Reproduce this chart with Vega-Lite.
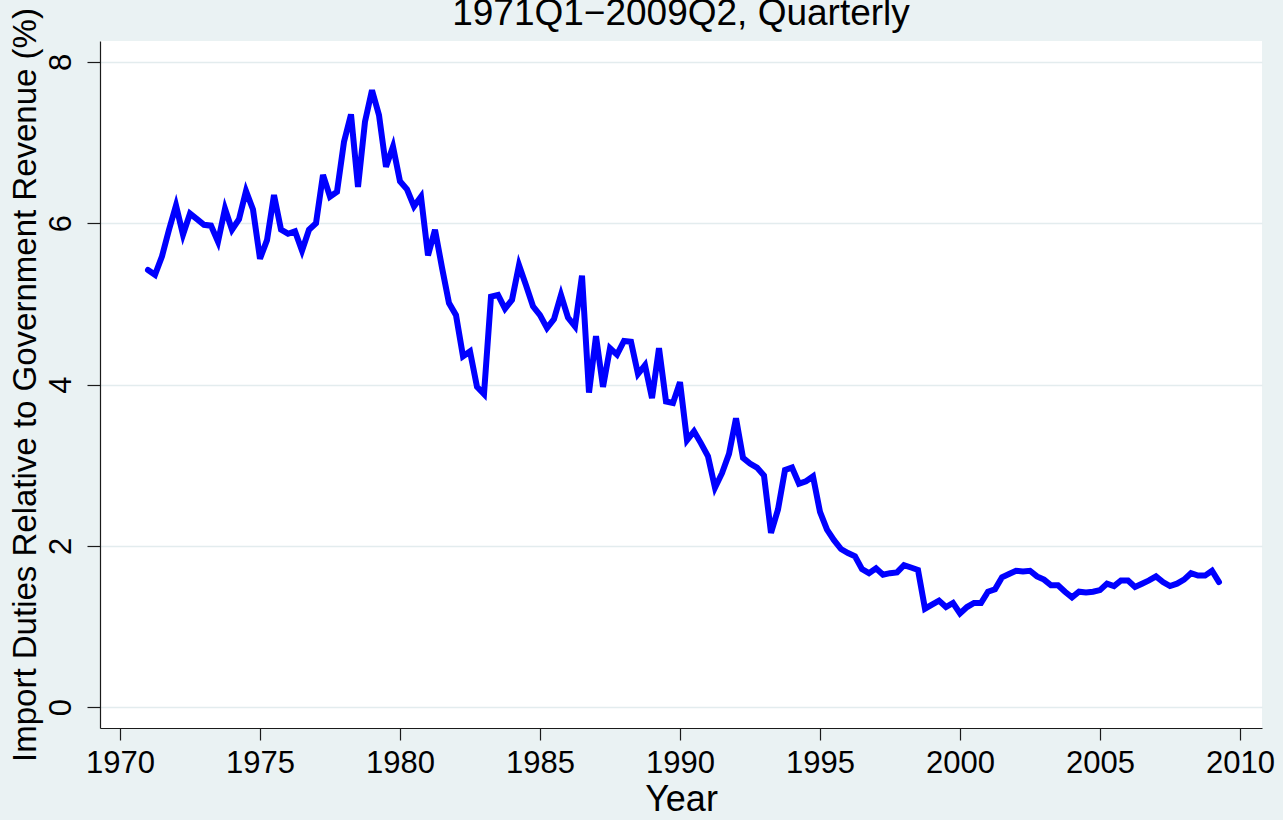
{
  "$schema": "https://vega.github.io/schema/vega-lite/v6.json",
  "autosize": {"type": "none"},
  "width": 1162,
  "height": 687,
  "padding": {"left": 100, "top": 41, "right": 21, "bottom": 92},
  "background": "#EAF2F3",
  "title": {
    "text": "1971Q1−2009Q2, Quarterly",
    "font": "Liberation Sans",
    "fontSize": 37,
    "fontWeight": "normal",
    "color": "#000000",
    "anchor": "middle",
    "frame": "group",
    "baseline": "alphabetic",
    "offset": 0,
    "dy": 54
  },
  "config": {
    "view": {"stroke": null, "fill": "#FFFFFF"},
    "font": "Liberation Sans"
  },
  "data": {
    "values": [
      {"t": 1971.00, "v": 5.42}, {"t": 1971.25, "v": 5.36}, {"t": 1971.50, "v": 5.59}, {"t": 1971.75, "v": 5.92},
      {"t": 1972.00, "v": 6.22}, {"t": 1972.25, "v": 5.86}, {"t": 1972.50, "v": 6.12}, {"t": 1972.75, "v": 6.05},
      {"t": 1973.00, "v": 5.98}, {"t": 1973.25, "v": 5.97}, {"t": 1973.50, "v": 5.77}, {"t": 1973.75, "v": 6.18},
      {"t": 1974.00, "v": 5.92}, {"t": 1974.25, "v": 6.05}, {"t": 1974.50, "v": 6.40}, {"t": 1974.75, "v": 6.17},
      {"t": 1975.00, "v": 5.56}, {"t": 1975.25, "v": 5.79}, {"t": 1975.50, "v": 6.35}, {"t": 1975.75, "v": 5.92},
      {"t": 1976.00, "v": 5.87}, {"t": 1976.25, "v": 5.90}, {"t": 1976.50, "v": 5.66}, {"t": 1976.75, "v": 5.92},
      {"t": 1977.00, "v": 6.00}, {"t": 1977.25, "v": 6.60}, {"t": 1977.50, "v": 6.33}, {"t": 1977.75, "v": 6.39},
      {"t": 1978.00, "v": 7.01}, {"t": 1978.25, "v": 7.35}, {"t": 1978.50, "v": 6.45}, {"t": 1978.75, "v": 7.26},
      {"t": 1979.00, "v": 7.65}, {"t": 1979.25, "v": 7.34}, {"t": 1979.50, "v": 6.70}, {"t": 1979.75, "v": 6.95},
      {"t": 1980.00, "v": 6.52}, {"t": 1980.25, "v": 6.42}, {"t": 1980.50, "v": 6.21}, {"t": 1980.75, "v": 6.33},
      {"t": 1981.00, "v": 5.60}, {"t": 1981.25, "v": 5.92}, {"t": 1981.50, "v": 5.45}, {"t": 1981.75, "v": 5.01},
      {"t": 1982.00, "v": 4.86}, {"t": 1982.25, "v": 4.35}, {"t": 1982.50, "v": 4.41}, {"t": 1982.75, "v": 3.97},
      {"t": 1983.00, "v": 3.88}, {"t": 1983.25, "v": 5.09}, {"t": 1983.50, "v": 5.11}, {"t": 1983.75, "v": 4.94},
      {"t": 1984.00, "v": 5.05}, {"t": 1984.25, "v": 5.48}, {"t": 1984.50, "v": 5.23}, {"t": 1984.75, "v": 4.97},
      {"t": 1985.00, "v": 4.86}, {"t": 1985.25, "v": 4.70}, {"t": 1985.50, "v": 4.81}, {"t": 1985.75, "v": 5.11},
      {"t": 1986.00, "v": 4.83}, {"t": 1986.25, "v": 4.72}, {"t": 1986.50, "v": 5.35}, {"t": 1986.75, "v": 3.90},
      {"t": 1987.00, "v": 4.60}, {"t": 1987.25, "v": 3.97}, {"t": 1987.50, "v": 4.45}, {"t": 1987.75, "v": 4.37},
      {"t": 1988.00, "v": 4.54}, {"t": 1988.25, "v": 4.53}, {"t": 1988.50, "v": 4.13}, {"t": 1988.75, "v": 4.24},
      {"t": 1989.00, "v": 3.83}, {"t": 1989.25, "v": 4.45}, {"t": 1989.50, "v": 3.79}, {"t": 1989.75, "v": 3.77},
      {"t": 1990.00, "v": 4.03}, {"t": 1990.25, "v": 3.31}, {"t": 1990.50, "v": 3.42}, {"t": 1990.75, "v": 3.27},
      {"t": 1991.00, "v": 3.11}, {"t": 1991.25, "v": 2.72}, {"t": 1991.50, "v": 2.90}, {"t": 1991.75, "v": 3.14},
      {"t": 1992.00, "v": 3.58}, {"t": 1992.25, "v": 3.09}, {"t": 1992.50, "v": 3.02}, {"t": 1992.75, "v": 2.97},
      {"t": 1993.00, "v": 2.87}, {"t": 1993.25, "v": 2.16}, {"t": 1993.50, "v": 2.45}, {"t": 1993.75, "v": 2.94},
      {"t": 1994.00, "v": 2.97}, {"t": 1994.25, "v": 2.77}, {"t": 1994.50, "v": 2.80}, {"t": 1994.75, "v": 2.86},
      {"t": 1995.00, "v": 2.42}, {"t": 1995.25, "v": 2.20}, {"t": 1995.50, "v": 2.07}, {"t": 1995.75, "v": 1.96},
      {"t": 1996.00, "v": 1.91}, {"t": 1996.25, "v": 1.87}, {"t": 1996.50, "v": 1.71}, {"t": 1996.75, "v": 1.66},
      {"t": 1997.00, "v": 1.72}, {"t": 1997.25, "v": 1.64}, {"t": 1997.50, "v": 1.66}, {"t": 1997.75, "v": 1.67},
      {"t": 1998.00, "v": 1.76}, {"t": 1998.25, "v": 1.73}, {"t": 1998.50, "v": 1.70}, {"t": 1998.75, "v": 1.22},
      {"t": 1999.00, "v": 1.27}, {"t": 1999.25, "v": 1.32}, {"t": 1999.50, "v": 1.24}, {"t": 1999.75, "v": 1.29},
      {"t": 2000.00, "v": 1.16}, {"t": 2000.25, "v": 1.24}, {"t": 2000.50, "v": 1.29}, {"t": 2000.75, "v": 1.29},
      {"t": 2001.00, "v": 1.43}, {"t": 2001.25, "v": 1.46}, {"t": 2001.50, "v": 1.61}, {"t": 2001.75, "v": 1.65},
      {"t": 2002.00, "v": 1.69}, {"t": 2002.25, "v": 1.68}, {"t": 2002.50, "v": 1.69}, {"t": 2002.75, "v": 1.62},
      {"t": 2003.00, "v": 1.58}, {"t": 2003.25, "v": 1.51}, {"t": 2003.50, "v": 1.51}, {"t": 2003.75, "v": 1.43},
      {"t": 2004.00, "v": 1.36}, {"t": 2004.25, "v": 1.43}, {"t": 2004.50, "v": 1.42}, {"t": 2004.75, "v": 1.43},
      {"t": 2005.00, "v": 1.45}, {"t": 2005.25, "v": 1.53}, {"t": 2005.50, "v": 1.50}, {"t": 2005.75, "v": 1.57},
      {"t": 2006.00, "v": 1.57}, {"t": 2006.25, "v": 1.49}, {"t": 2006.50, "v": 1.53}, {"t": 2006.75, "v": 1.57},
      {"t": 2007.00, "v": 1.62}, {"t": 2007.25, "v": 1.55}, {"t": 2007.50, "v": 1.50}, {"t": 2007.75, "v": 1.53},
      {"t": 2008.00, "v": 1.58}, {"t": 2008.25, "v": 1.66}, {"t": 2008.50, "v": 1.63}, {"t": 2008.75, "v": 1.63},
      {"t": 2009.00, "v": 1.69}, {"t": 2009.25, "v": 1.55}
    ]
  },
  "mark": {"type": "line", "color": "#0000FF", "strokeWidth": 6, "strokeCap": "round", "strokeJoin": "miter", "clip": false},
  "encoding": {
    "x": {
      "field": "t",
      "type": "quantitative",
      "scale": {"domain": [1969.2857, 2010.7857], "nice": false, "zero": false},
      "axis": {
        "title": "Year",
        "values": [1970, 1975, 1980, 1985, 1990, 1995, 2000, 2005, 2010],
        "format": "d",
        "grid": false,
        "domainColor": "#1a1a1a",
        "domainWidth": 1.2,
        "tickColor": "#1a1a1a",
        "tickWidth": 1.2,
        "tickSize": 12,
        "labelFont": "Liberation Sans",
        "labelFontSize": 31,
        "labelColor": "#000000",
        "labelPadding": 8,
        "labelFlush": false,
        "labelOverlap": false,
        "titleFont": "Liberation Sans",
        "titleFontSize": 36,
        "titleFontWeight": "normal",
        "titleColor": "#000000",
        "titlePadding": 4
      }
    },
    "y": {
      "field": "v",
      "type": "quantitative",
      "scale": {"domain": [-0.26, 8.26], "nice": false, "zero": false},
      "axis": {
        "title": "Import Duties Relative to Government Revenue (%)",
        "values": [0, 2, 4, 6, 8],
        "grid": true,
        "gridColor": "#E3ECEE",
        "gridWidth": 1.6,
        "domainColor": "#1a1a1a",
        "domainWidth": 1.2,
        "tickColor": "#1a1a1a",
        "tickWidth": 1.2,
        "tickSize": 13,
        "labelFont": "Liberation Sans",
        "labelFontSize": 31,
        "labelColor": "#000000",
        "labelAngle": 270,
        "labelAlign": "center",
        "labelBaseline": "bottom",
        "labelPadding": 10,
        "labelFlush": false,
        "labelOverlap": false,
        "titleFont": "Liberation Sans",
        "titleFontSize": 33,
        "titleFontWeight": "normal",
        "titleColor": "#000000",
        "titlePadding": 3
      }
    }
  }
}
